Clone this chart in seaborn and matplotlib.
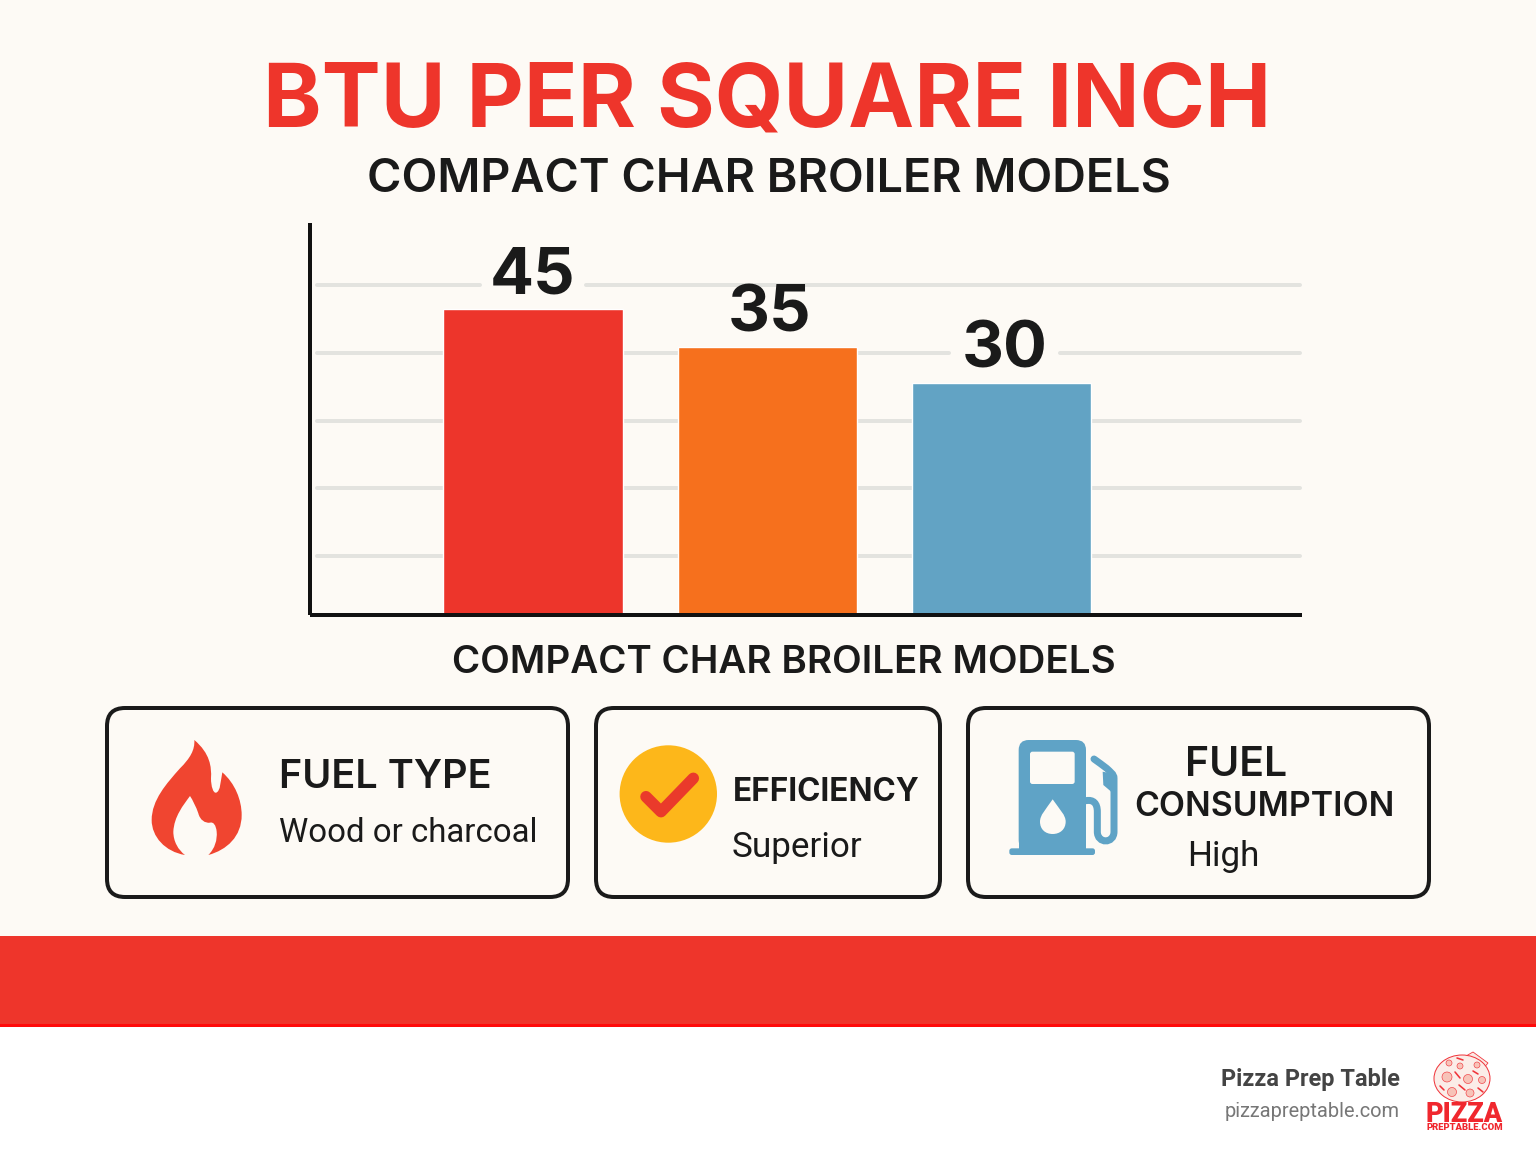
import matplotlib
matplotlib.use("Agg")
import matplotlib.pyplot as plt
import seaborn as sns
import pandas as pd
from matplotlib.patches import FancyBboxPatch, PathPatch, Rectangle, Circle, Ellipse
from matplotlib.path import Path

# ---- data ----
models = ["Model 1", "Model 2", "Model 3"]
bar_heights = [45.0, 39.4, 34.1]   # drawn heights
value_labels = ["45", "35", "30"]
bar_colors = ["#ED352B", "#F6701D", "#62A3C4"]
grid_levels = [48.55, 38.55, 28.6, 18.75, 8.7]

title = "BTU PER SQUARE INCH"
subtitle = "COMPACT CHAR BROILER MODELS"
x_label = "COMPACT CHAR BROILER MODELS"

W, H, DPI = 1536, 1154, 100
INK = "#1A1A1A"
px = 72 / DPI  # one pixel in points

sns.set_theme(style="white")
plt.rcParams["font.family"] = ["Inter", "DejaVu Sans"]

fig = plt.figure(figsize=(W / DPI, H / DPI), dpi=DPI, facecolor="white")

# page layer in pixel coordinates
page = fig.add_axes([0, 0, 1, 1], zorder=0)
page.set_xlim(0, W)
page.set_ylim(H, 0)
page.axis("off")
page.add_patch(Rectangle((0, 0), W, 936, fc="#FDFAF5", ec="none"))
page.add_patch(Rectangle((0, 936), W, 90, fc="#EE352B", ec="none"))
page.add_patch(Rectangle((0, 1024), W, 3, fc="#FF0A0A", ec="none"))

# chart
L, R, T, B = 310, 1302, 223, 615
ax = fig.add_axes([L / W, 1 - B / H, (R - L) / W, (B - T) / H], zorder=1)
ax.patch.set_alpha(0)
df = pd.DataFrame({"model": models, "height": bar_heights})
sns.barplot(data=df, x="model", y="height", hue="model", palette=bar_colors,
            width=0.766, saturation=1, legend=False, ax=ax, zorder=2)
ax.set_xlim(-0.952, 3.282)
ax.set_ylim(0, 57.7)

# grid lines, broken where the "45" and "30" labels sit on them
x_start, x_end = -0.922, 3.272
segments = [(grid_levels[0], x_start, -0.225), (grid_levels[0], 0.225, x_end),
            (grid_levels[1], x_start, 1.775), (grid_levels[1], 2.25, x_end)]
segments += [(lvl, x_start, x_end) for lvl in grid_levels[2:]]
for lvl, a, b in segments:
    ax.plot([a, b], [lvl, lvl], color="#E3E3DF", lw=4 * px, zorder=0.5,
            solid_capstyle="round")

ax.set_xticks([])
ax.set_yticks([])
ax.set_ylabel("")
ax.set_xlabel(x_label, fontsize=38.5 * px, fontweight="semibold", color=INK, va="baseline")
ax.xaxis.set_label_coords(0.478, -(673 - B) / (B - T))
sns.despine(ax=ax)
for side in ("left", "bottom"):
    ax.spines[side].set_linewidth(4 * px)
    ax.spines[side].set_color("#111111")
    ax.spines[side].set_capstyle("butt")

for cont, lab, nudge in zip(ax.containers, value_labels, [0, 2, 3]):
    for t in ax.bar_label(cont, labels=[lab], padding=16 * px, fontsize=65 * px,
                          fontweight="bold", color=INK):
        t.set_va("baseline")
        t.set_zorder(3)
        t.xyann = (t.xyann[0] + nudge * px, t.xyann[1])


def txt(x, y, s, size, weight="normal", color=INK, ha="left", family=None):
    return page.text(x, y, s, fontsize=size * px, fontweight=weight, color=color,
                     ha=ha, va="baseline", family=family or ["Inter", "DejaVu Sans"])


txt(767, 126, title, 88.5, "bold", "#EE352B", "center")
txt(769, 191, subtitle, 46.7, "semibold", INK, "center")

# cards
for x0, x1 in [(107, 568), (596, 940), (968, 1429)]:
    page.add_patch(FancyBboxPatch((x0 + 18, 708 + 18), x1 - x0 - 36, 189 - 36,
                                  boxstyle="round,pad=18,rounding_size=18",
                                  fc="#FDFAF5", ec="#1A1A1A", lw=4 * px))

txt(279, 788, "FUEL TYPE", 39.6, "semibold")
txt(279, 842, "Wood or charcoal", 33, "normal", family="Roboto")
txt(733, 801, "EFFICIENCY", 31.5, "bold")
txt(732, 857, "Superior", 35, "normal", family="Roboto")
txt(1236, 776, "FUEL", 41, "semibold", ha="center")
txt(1264, 816, "CONSUMPTION", 33.8, "semibold", ha="center")
txt(1187, 866, "High", 35, "normal", family="Roboto")


# icons, traced in zoom coordinates (3x) of the card crops
def curve(points, ox, oy, scale=3.0):
    verts = [(ox + a / scale, oy + b / scale) for a, b in points]
    codes = [Path.MOVETO] + [Path.CURVE4] * (len(verts) - 1)
    return Path(verts, codes)


flame = [(283, 120),
         (330, 160), (335, 200), (333, 235),
         (333, 260), (340, 280), (348, 278),
         (362, 275), (362, 240), (367, 217),
         (405, 250), (425, 300), (425, 345),
         (425, 410), (380, 450), (325, 465),
         (345, 445), (352, 420), (350, 395),
         (348, 375), (340, 365), (330, 368),
         (315, 370), (300, 360), (295, 340),
         (288, 320), (278, 300), (270, 288),
         (250, 315), (222, 350), (220, 395),
         (220, 425), (235, 450), (255, 465),
         (195, 455), (155, 410), (155, 360),
         (155, 300), (200, 250), (240, 205),
         (270, 175), (285, 150), (283, 120)]
page.add_patch(PathPatch(curve(flame, 100, 700), fc="#F04530", ec="none"))

page.add_patch(Circle((668.3, 794), 48.7, fc="#FDB71A", ec="none"))
page.plot([646, 661, 693.3], [796.7, 811.7, 778.3], color="#EA3A2B", lw=11.5 * px,
          solid_capstyle="round", solid_joinstyle="round")

PUMP = "#5FA3C6"
ox, oy = 960, 700
page.add_patch(FancyBboxPatch((ox + 206 / 3, oy + 150 / 3), 142 / 3, 300 / 3 - 10,
                              boxstyle="round,pad=10,rounding_size=10", fc=PUMP, ec="none"))
page.add_patch(Rectangle((ox + 176 / 3, oy + 200 / 3), 202 / 3, 250 / 3, fc=PUMP, ec="none"))
page.add_patch(FancyBboxPatch((ox + 154 / 3, oy + 451 / 3), 245 / 3, 8 / 3,
                              boxstyle="round,pad=2,rounding_size=2.5", fc=PUMP, ec="none"))
page.add_patch(FancyBboxPatch((ox + 216 / 3, oy + 161 / 3), 122 / 3, 85 / 3,
                              boxstyle="round,pad=2,rounding_size=2.5", fc="#FDFAF5", ec="none"))
drop = [(278, 298),
        (300, 330), (317, 345), (317, 365),
        (317, 388), (300, 402), (278, 402),
        (256, 402), (240, 388), (240, 365),
        (240, 345), (256, 330), (278, 298)]
page.add_patch(PathPatch(curve(drop, ox, oy), fc="#FDFAF5", ec="none"))
hose = [(378, 302),
        (400, 298), (412, 310), (412, 335),
        (412, 355), (412, 375), (412, 395),
        (412, 432), (462, 432), (462, 395),
        (462, 340), (462, 290), (462, 235),
        (462, 222), (450, 215), (440, 205),
        (428, 195), (415, 187), (402, 177)]
page.add_patch(PathPatch(curve(hose, ox, oy), fc="none", ec=PUMP, lw=7 * px,
                         capstyle="round"))
nozzle = [(428, 215), (462, 222), (462, 285), (450, 272), (430, 255)]
page.fill([ox + a / 3 for a, _ in nozzle], [oy + b / 3 for _, b in nozzle], color=PUMP, lw=0)

# footer
txt(1400, 1086, "Pizza Prep Table", 23.5, "bold", "#444444", "right", "Roboto")
txt(1400, 1117, "pizzapreptable.com", 20, "normal", "#777777", "right", "Roboto")

LOGO = "#F0343A"
page.fill([1466, 1473, 1488, 1482, 1464], [1056, 1052, 1063, 1070, 1076],
          fc="#FBE9E4", ec=LOGO, lw=0.8 * px)
page.add_patch(Ellipse((1462, 1078.5), 56, 47, fc="#FBEDE8", ec=LOGO, lw=1 * px))
for a, b, r in [(1447, 1077, 5), (1468, 1079, 4.5), (1452, 1092, 4.5), (1470, 1093, 4),
                (1482, 1080, 3.5), (1449, 1063, 3), (1460, 1066, 3), (1477, 1065, 3)]:
    page.add_patch(Circle((a, b), r, fc="#F7C3B8", ec=LOGO, lw=0.6 * px))
for x0, y0, x1, y1 in [(1455, 1072, 1460, 1078), (1459, 1085, 1465, 1090), (1473, 1071, 1478, 1074),
                       (1440, 1086, 1444, 1090), (1478, 1088, 1483, 1092), (1457, 1058, 1463, 1060)]:
    page.plot([x0, x1], [y0, y1], color=LOGO, lw=1.6 * px)
txt(1464.5, 1122, "PIZZA", 27, "black", "#F0272E", "center", "Roboto")
txt(1464.5, 1130, "PREPTABLE.COM", 9.5, "black", "#F0272E", "center", "Roboto")

fig.savefig("out.png", dpi=DPI)
